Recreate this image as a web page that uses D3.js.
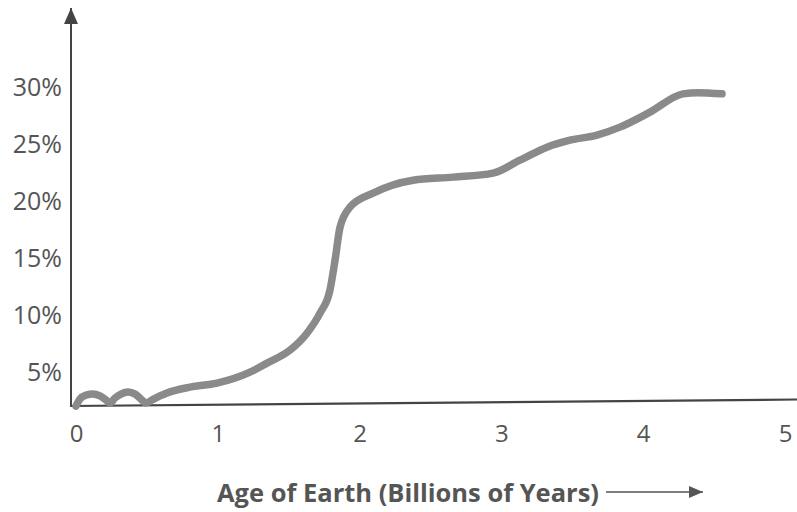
<!DOCTYPE html>
<html>
<head>
<meta charset="utf-8">
<script src="https://cdn.jsdelivr.net/npm/d3@7"></script>
<style>
html,body{margin:0;padding:0;background:#fff;}
svg{display:block;}
</style>
</head>
<body>
<svg id="chart" width="797" height="512"></svg>
<script>
// Data (age in billions of years, oxygen %)
const ages = [0.014, 0.042, 0.085, 0.134, 0.183, 0.226, 0.254, 0.289, 0.331, 0.381, 0.430, 0.472, 0.508, 0.550, 0.606, 0.656, 0.818, 1.008, 1.241, 1.361, 1.523, 1.643, 1.735, 1.805, 1.841, 1.876, 1.946, 2.109, 2.391, 2.673, 2.955, 3.145, 3.336, 3.498, 3.688, 3.85, 4.062, 4.295, 4.40, 4.57];
const values = [2.11, 2.72, 3.07, 3.16, 2.99, 2.64, 2.37, 2.81, 3.16, 3.34, 3.16, 2.72, 2.37, 2.64, 2.99, 3.25, 3.76, 4.11, 5.07, 5.86, 6.99, 8.48, 10.23, 12.24, 14.86, 17.74, 19.49, 20.72, 21.85, 22.12, 22.47, 23.6, 24.74, 25.35, 25.79, 26.49, 27.8, 29.40, 29.50, 29.40];
const xTicks = [0, 1, 2, 3, 4, 5];
const yTicks = [5, 10, 15, 20, 25, 30];
const xTitle = "Age of Earth (Billions of Years)";

const svg = d3.select("#chart");
const x = d3.scaleLinear().domain([0, 5]).range([74, 783]);
const y = d3.scaleLinear().domain([2.2, 30]).range([405, 87]);

const axisColor = "#444";
const textColor = "#555";
const font = "'Open Sans', 'Noto Sans', sans-serif";

// arrow markers
const defs = svg.append("defs");
defs.append("marker").attr("id", "arr").attr("viewBox", "0 0 14 12")
  .attr("refX", 14).attr("refY", 6).attr("markerWidth", 14).attr("markerHeight", 12)
  .attr("markerUnits", "userSpaceOnUse").attr("orient", "auto")
  .append("path").attr("d", "M0,0 L14,6 L0,12 Z").attr("fill", "#555");
defs.append("marker").attr("id", "arrY").attr("viewBox", "0 0 16 14")
  .attr("refX", 16).attr("refY", 7).attr("markerWidth", 16).attr("markerHeight", 14)
  .attr("markerUnits", "userSpaceOnUse").attr("orient", "auto")
  .append("path").attr("d", "M0,0 L16,7 L0,14 Z").attr("fill", axisColor);

// Y axis
const yAxis = d3.axisLeft(y).tickValues(yTicks).tickSize(0).tickPadding(9).tickFormat(d => d + "%");
const gy = svg.append("g").attr("transform", "translate(71,0)").call(yAxis);
gy.select(".domain").remove();
gy.selectAll("text").attr("font-family", font).attr("font-size", 25).attr("fill", textColor);
svg.append("line").attr("x1", 71).attr("x2", 71).attr("y1", 406).attr("y2", 8)
  .attr("stroke", axisColor).attr("stroke-width", 2).attr("marker-end", "url(#arrY)");

// X axis
const xAxis = d3.axisBottom(x).tickValues(xTicks).tickSize(0).tickPadding(20).tickFormat(d3.format("d"));
const gx = svg.append("g").attr("transform", "translate(0,405)").call(xAxis);
gx.select(".domain").remove();
gx.selectAll("text").attr("font-family", font).attr("font-size", 24).attr("fill", textColor)
  .attr("transform", "translate(2,0)");
svg.append("line").attr("x1", 70).attr("x2", 797).attr("y1", 406).attr("y2", 399.5)
  .attr("stroke", axisColor).attr("stroke-width", 2.2);

// Curve
const line = d3.line().x((d, i) => x(ages[i])).y((d, i) => y(values[i]))
  .curve(d3.curveMonotoneX);
svg.append("path").datum(values).attr("d", line)
  .attr("fill", "none").attr("stroke", "#8a8a8a").attr("stroke-width", 7.5)
  .attr("stroke-linecap", "round").attr("stroke-linejoin", "round");

// X title
svg.append("text").attr("x", 408).attr("y", 502).attr("text-anchor", "middle")
  .attr("font-family", font).attr("font-weight", "bold").attr("font-size", 25.5)
  .attr("fill", "#555").text(xTitle);
svg.append("line").attr("x1", 606).attr("x2", 703).attr("y1", 492).attr("y2", 492)
  .attr("stroke", "#555").attr("stroke-width", 1.5).attr("marker-end", "url(#arr)");
</script>
</body>
</html>
